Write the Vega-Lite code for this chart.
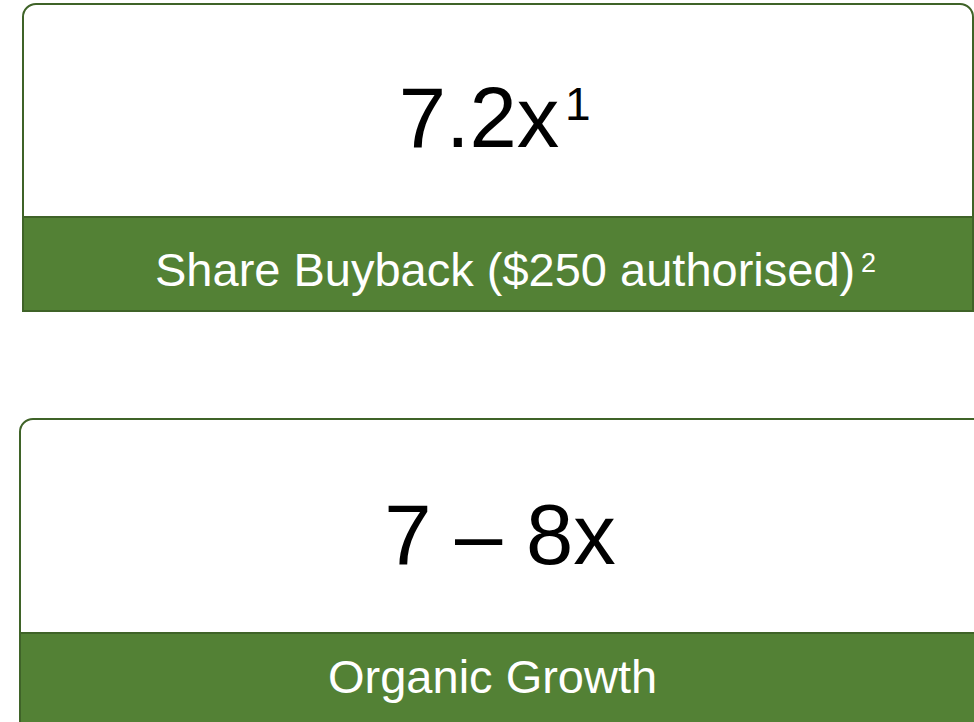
{
  "$schema": "https://vega.github.io/schema/vega-lite/v6.json",
  "width": 974,
  "height": 722,
  "padding": 0,
  "autosize": {"type": "fit", "contains": "padding"},
  "background": "white",
  "config": {"view": {"stroke": null}},
  "datasets": {
    "boxes": [
      {"x": 23, "x2": 973, "y": 4, "y2": 311},
      {"x": 20, "x2": 990, "y": 419, "y2": 740}
    ],
    "bars": [
      {"x": 23, "x2": 973, "y": 217, "y2": 311},
      {"x": 20, "x2": 990, "y": 633, "y2": 740}
    ],
    "big": [
      {"x": 479, "y": 147, "text": "7.2x"},
      {"x": 500, "y": 564, "text": "7 – 8x"}
    ],
    "bigsup": [
      {"x": 565, "y": 120, "text": "1"}
    ],
    "labels": [
      {"x": 155, "y": 286, "text": "Share Buyback ($250 authorised)"},
      {"x": 328, "y": 693, "text": "Organic Growth"}
    ],
    "labelsup": [
      {"x": 861, "y": 272, "text": "2"}
    ]
  },
  "layer": [
    {
      "data": {"name": "boxes"},
      "mark": {"type": "rect", "clip": true, "fill": "white", "stroke": "#3F6328", "strokeWidth": 2, "cornerRadiusTopLeft": 13, "cornerRadiusTopRight": 13},
      "encoding": {
        "x": {"field": "x", "type": "quantitative", "scale": {"domain": [0, 974], "nice": false, "zero": false}, "axis": null},
        "x2": {"field": "x2"},
        "y": {"field": "y", "type": "quantitative", "scale": {"domain": [0, 722], "nice": false, "zero": false, "reverse": true}, "axis": null},
        "y2": {"field": "y2"}
      }
    },
    {
      "data": {"name": "bars"},
      "mark": {"type": "rect", "clip": true, "fill": "#538135", "stroke": "#3F6328", "strokeWidth": 2},
      "encoding": {
        "x": {"field": "x", "type": "quantitative"},
        "x2": {"field": "x2"},
        "y": {"field": "y", "type": "quantitative"},
        "y2": {"field": "y2"}
      }
    },
    {
      "data": {"name": "big"},
      "mark": {"type": "text", "font": "Liberation Sans", "fontSize": 85, "color": "black", "align": "center", "baseline": "alphabetic"},
      "encoding": {
        "x": {"field": "x", "type": "quantitative"},
        "y": {"field": "y", "type": "quantitative"},
        "text": {"field": "text"}
      }
    },
    {
      "data": {"name": "bigsup"},
      "mark": {"type": "text", "font": "Liberation Sans", "fontSize": 46, "color": "black", "align": "left", "baseline": "alphabetic"},
      "encoding": {
        "x": {"field": "x", "type": "quantitative"},
        "y": {"field": "y", "type": "quantitative"},
        "text": {"field": "text"}
      }
    },
    {
      "data": {"name": "labels"},
      "mark": {"type": "text", "font": "Liberation Sans", "fontSize": 47, "color": "white", "align": "left", "baseline": "alphabetic"},
      "encoding": {
        "x": {"field": "x", "type": "quantitative"},
        "y": {"field": "y", "type": "quantitative"},
        "text": {"field": "text"}
      }
    },
    {
      "data": {"name": "labelsup"},
      "mark": {"type": "text", "font": "Liberation Sans", "fontSize": 27, "color": "white", "align": "left", "baseline": "alphabetic"},
      "encoding": {
        "x": {"field": "x", "type": "quantitative"},
        "y": {"field": "y", "type": "quantitative"},
        "text": {"field": "text"}
      }
    }
  ]
}
